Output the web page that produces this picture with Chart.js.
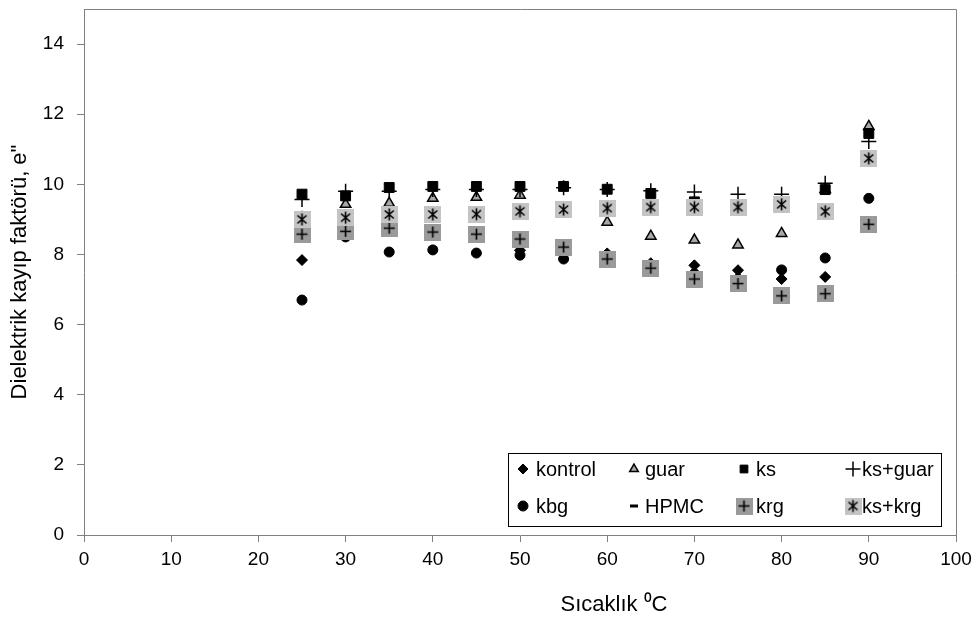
<!DOCTYPE html>
<html>
<head>
<meta charset="utf-8">
<script src="https://cdn.jsdelivr.net/npm/chart.js@4.4.0/dist/chart.umd.min.js"></script>
<style>
  html, body { margin: 0; padding: 0; background: #fff; }
</style>
</head>
<body>
<canvas id="kayip" width="977" height="623"></canvas>
<script>
// sıcaklık (°C)
const temps = [25, 30, 35, 40, 45, 50, 55, 60, 65, 70, 75, 80, 85, 90]

// dielektrik kayıp faktörü, e"
const kontrol = [7.84, 8.6, 8.7, 8.6, 8.55, 8.12, 8.15, 8.03, 7.75, 7.69, 7.55, 7.3, 7.36, 8.9]
const guar = [9.05, 9.43, 9.46, 9.6, 9.63, 9.69, 9.3, 8.92, 8.52, 8.41, 8.27, 8.6, 9.85, 11.65]
const ks = [9.72, 9.67, 9.91, 9.94, 9.94, 9.94, 9.94, 9.86, 9.74, 9.5, 9.4, 9.45, 9.85, 11.45]
const ksGuar = [9.57, 9.8, 9.8, 9.85, 9.85, 9.85, 9.9, 9.85, 9.82, 9.78, 9.72, 9.72, 10.03, 11.22]
const kbg = [6.7, 8.5, 8.07, 8.13, 8.04, 7.98, 7.87, 7.8, 7.65, 7.45, 7.3, 7.56, 7.9, 9.6]
const hpmc = [8.6, 8.75, 8.85, 8.7, 8.63, 8.47, 8.27, 7.9, 7.62, 7.35, 7.2, 6.85, 6.9, 8.9]
const krg = [8.58, 8.66, 8.75, 8.64, 8.58, 8.44, 8.21, 7.87, 7.61, 7.3, 7.17, 6.82, 6.88, 8.86]
const ksKrg = [9.0, 9.05, 9.14, 9.14, 9.15, 9.23, 9.28, 9.32, 9.35, 9.35, 9.35, 9.43, 9.23, 10.74]

const xTicks = [0, 10, 20, 30, 40, 50, 60, 70, 80, 90, 100]
const yTicks = [0, 2, 4, 6, 8, 10, 12, 14]

const FONT = 'Liberation Sans, Arial, Helvetica, sans-serif'
const AXIS = '#808080'

// gray box markers with a glyph on top (krg, ks+krg)
function boxMarker (fill, star) {
  const c = document.createElement('canvas')
  c.width = 17
  c.height = 17
  const g = c.getContext('2d')
  g.fillStyle = fill
  g.fillRect(0, 0, 17, 17)
  g.strokeStyle = '#000'
  g.lineWidth = 1.6
  g.beginPath()
  if (star) {
    g.moveTo(4, 4.5); g.lineTo(13, 12.5)
    g.moveTo(13, 4.5); g.lineTo(4, 12.5)
    g.moveTo(8.5, 2.5); g.lineTo(8.5, 14.5)
  } else {
    g.moveTo(3, 8.5); g.lineTo(14, 8.5)
    g.moveTo(8.5, 3); g.lineTo(8.5, 14)
  }
  g.stroke()
  return c
}

function pts (values) {
  return temps.map((t, i) => ({ x: t, y: values[i] }))
}

const series = [
  { label: 'kontrol', data: kontrol, style: 'rectRot', radius: 5.5, legendRadius: 5, bg: '#000', width: 1 },
  { label: 'guar', data: guar, style: 'triangle', radius: 6, legendRadius: 5, bg: '#a8a8a8', width: 1.5 },
  { label: 'ks', data: ks, style: 'rect', radius: 7, legendRadius: 5.5, bg: '#000', width: 1 },
  { label: 'ks+guar', data: ksGuar, style: 'cross', radius: 7.5, legendRadius: 7.5, bg: '#000', width: 1.5 },
  { label: 'kbg', data: kbg, style: 'circle', radius: 5, legendRadius: 5, bg: '#000', width: 1 },
  { label: 'HPMC', data: hpmc, style: 'line', radius: 4, legendRadius: 4, bg: '#000', width: 3 },
  { label: 'krg', data: krg, style: boxMarker('#9a9a9a', false), radius: 8, legendRadius: 8, bg: '#000', width: 1 },
  { label: 'ks+krg', data: ksKrg, style: boxMarker('#c4c4c4', true), radius: 8, legendRadius: 8, bg: '#000', width: 1 }
]

const datasets = series.map((s, i) => ({
  label: s.label,
  data: pts(s.data),
  pointStyle: s.style,
  pointRadius: s.radius,
  pointBackgroundColor: s.bg,
  pointBorderColor: '#000',
  pointBorderWidth: s.width,
  showLine: false,
  order: series.length - i
}))

// legend box inside the plot, 4 columns x 2 rows
const legendCols = [523, 634, 744, 853]
const legendText = [536, 645, 756, 862]
const legendRows = [469, 506]

const boxLegend = {
  id: 'boxLegend',
  beforeDatasetsDraw (chart) {
    const { ctx, chartArea } = chart
    ctx.save()
    ctx.strokeStyle = AXIS
    ctx.lineWidth = 1
    ctx.beginPath()
    ctx.moveTo(chartArea.left, chartArea.top + 0.5)
    ctx.lineTo(chartArea.right + 0.5, chartArea.top + 0.5)
    ctx.lineTo(chartArea.right + 0.5, chartArea.bottom)
    ctx.stroke()
    ctx.restore()
  },
  afterDraw (chart) {
    const ctx = chart.ctx
    ctx.save()
    // x axis title, sits right of centre as in the original
    ctx.fillStyle = '#000'
    ctx.font = '22px ' + FONT
    ctx.textAlign = 'center'
    ctx.textBaseline = 'middle'
    ctx.fillText('Sıcaklık ⁰C', 614, 605)

    ctx.fillStyle = '#fff'
    ctx.fillRect(508, 453, 434, 74)
    ctx.strokeStyle = '#000'
    ctx.lineWidth = 1
    ctx.strokeRect(508.5, 453.5, 433, 73)
    ctx.font = '20px ' + FONT
    ctx.textAlign = 'left'
    series.forEach((s, i) => {
      const col = i % 4
      const row = Math.floor(i / 4)
      const y = legendRows[row]
      ctx.fillStyle = s.bg
      ctx.strokeStyle = '#000'
      ctx.lineWidth = s.width
      Chart.helpers.drawPoint(ctx, {
        pointStyle: s.style,
        radius: s.legendRadius,
        borderWidth: s.width,
        rotation: 0
      }, legendCols[col], y)
      ctx.fillStyle = '#000'
      ctx.fillText(s.label, legendText[col], y + 1)
    })
    ctx.restore()
  }
}

new Chart(document.getElementById('kayip'), {
  type: 'scatter',
  data: { datasets },
  options: {
    responsive: false,
    animation: false,
    devicePixelRatio: 1,
    layout: { padding: { left: 0, top: 7, right: 21, bottom: 0 } },
    plugins: {
      legend: { display: false },
      tooltip: { enabled: false }
    },
    scales: {
      x: {
        type: 'linear',
        min: 0,
        max: 100,
        afterFit: (scale) => {
          scale.height = 88
          scale.paddingLeft = 0
          scale.paddingRight = 0
        },
        afterBuildTicks: (scale) => { scale.ticks = xTicks.map(v => ({ value: v })) },
        ticks: { color: '#000', font: { family: FONT, size: 19 }, padding: 6, maxRotation: 0 },
        grid: { drawOnChartArea: false, tickLength: 7, color: AXIS },
        border: { color: AXIS, width: 1 }
      },
      y: {
        type: 'linear',
        min: 0,
        max: 15,
        afterFit: (scale) => {
          scale.width = 84
          scale.paddingTop = 0
          scale.paddingBottom = 0
        },
        afterBuildTicks: (scale) => { scale.ticks = yTicks.map(v => ({ value: v })) },
        ticks: { color: '#000', font: { family: FONT, size: 19 }, padding: 13 },
        grid: { drawOnChartArea: false, tickLength: 7, color: AXIS },
        border: { color: AXIS, width: 1 },
        title: {
          display: true,
          text: 'Dielektrik kayıp faktörü, e"',
          color: '#000',
          font: { family: FONT, size: 22 },
          padding: { top: 7, bottom: 0 }
        }
      }
    }
  },
  plugins: [boxLegend]
})
</script>
</body>
</html>
